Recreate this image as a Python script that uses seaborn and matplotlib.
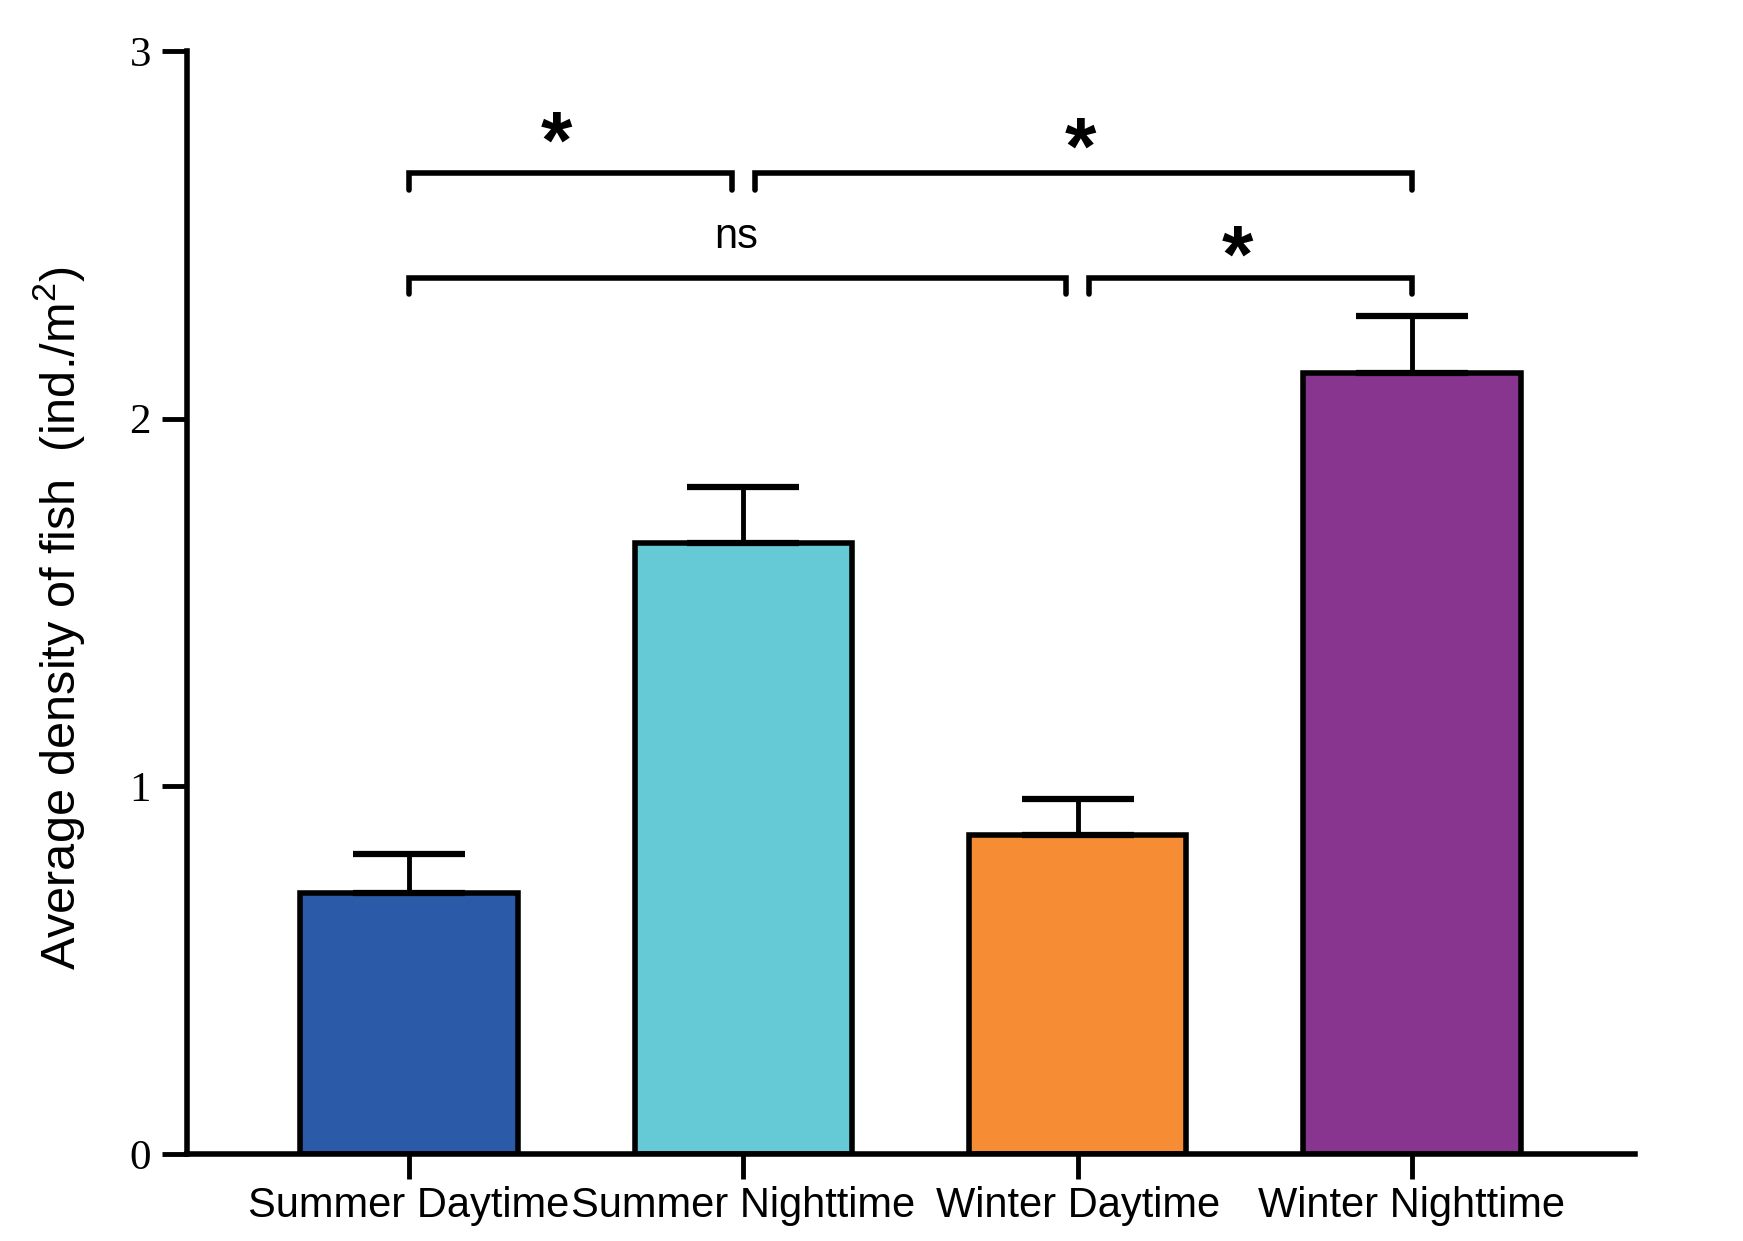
import matplotlib
matplotlib.use("Agg")
import matplotlib.pyplot as plt
import seaborn as sns
import pandas as pd

# === dados ===
groups = ["Summer Daytime", "Summer Nighttime", "Winter Daytime", "Winter Nighttime"]
means = [0.711, 1.663, 0.868, 2.123]
errors = [0.105, 0.151, 0.097, 0.157]
colors = ["#2B5BA8", "#66C9D6", "#F68C33", "#87358F"]

# comparações: início, fim (posição da categoria), nível, rótulo
comp_x0 = [0.0, 1.035, 0.0, 2.035]
comp_x1 = [0.965, 3.0, 1.965, 3.0]
comp_level = [2.667, 2.667, 2.383, 2.383]
comp_label = ["*", "*", "ns", "*"]
label_x = [0.442, 2.007, 0.98, 2.478]
label_y = [2.739, 2.724, 2.493, 2.431]

sns.set_theme(style="ticks")
plt.rcParams["font.family"] = ["Liberation Sans", "DejaVu Sans"]
plt.rcParams["mathtext.fontset"] = "custom"
plt.rcParams["mathtext.rm"] = "Liberation Sans"
plt.rcParams["mathtext.it"] = "Liberation Sans"
plt.rcParams["text.color"] = "black"
plt.rcParams["axes.labelcolor"] = "black"

df = pd.DataFrame({"group": groups, "mean": means, "err": errors})

fig = plt.figure(figsize=(17.43, 12.41), dpi=100)
ax = fig.add_axes([0.1073, 0.0701, 0.8307, 0.8888])

sns.barplot(data=df, x="group", y="mean", hue="group", palette=colors, legend=False,
            width=0.65, edgecolor="black", linewidth=4, saturation=1, ax=ax)

# barras de erro só para cima
ax.errorbar(range(len(groups)), df["mean"], yerr=[[0] * len(groups), df["err"]],
            fmt="none", ecolor="black", elinewidth=3.5, capsize=40, capthick=4.5, zorder=1)

# colchetes de significância
drop = 0.045
for x0, x1, lvl, lab, tx, ty in zip(comp_x0, comp_x1, comp_level, comp_label, label_x, label_y):
    ax.plot([x0, x0, x1, x1], [lvl - drop, lvl, lvl, lvl - drop], color="black",
            lw=4, solid_capstyle="round", solid_joinstyle="miter", clip_on=False)
    if lab == "ns":
        ax.text(tx, ty, lab, ha="center", va="center", fontsize=30, color="black")
    else:
        ax.text(tx, ty, lab, ha="center", va="center", fontsize=58, fontweight="bold",
                color="black")

ax.set_ylim(0, 3)
ax.set_xlim(-0.664, 3.667)
ax.set_yticks([0, 1, 2, 3])
ax.set_xlabel("")
ax.set_ylabel("Average density of fish  (ind./m$^2$)", fontsize=35, color="black")
ax.yaxis.set_label_coords(-0.069, 0.486)

for lab in ax.get_yticklabels():
    lab.set_family("Liberation Serif")
    lab.set_fontsize(31)
for lab in ax.get_xticklabels():
    lab.set_fontsize(30)

ax.tick_params(axis="both", width=3.5, length=18, color="black", labelcolor="black")
ax.tick_params(axis="y", pad=8)
ax.tick_params(axis="x", pad=5)
for sp in ["left", "bottom"]:
    ax.spines[sp].set_linewidth(4)
    ax.spines[sp].set_color("black")
sns.despine(ax=ax)

fig.savefig("out.png", dpi=100)
